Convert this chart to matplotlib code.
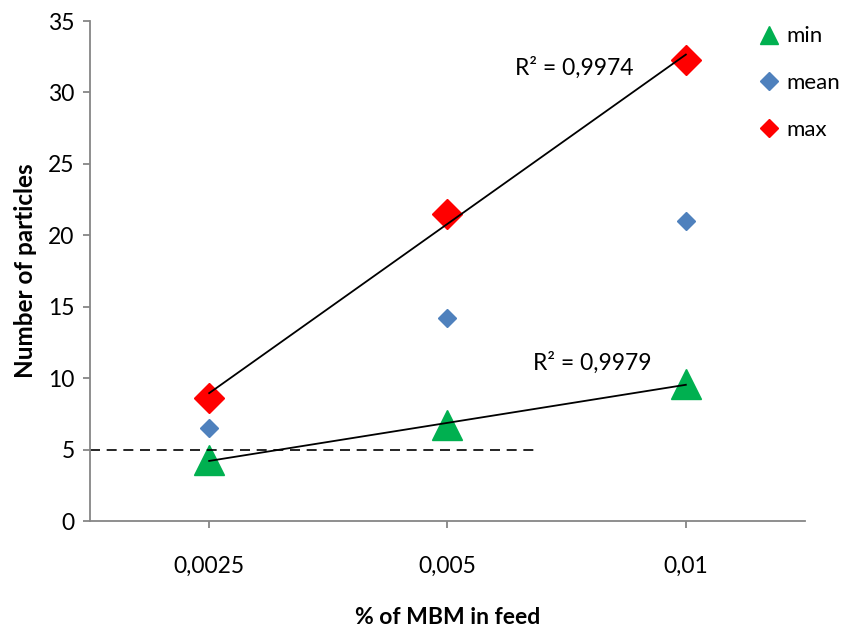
import numpy as np
import matplotlib
matplotlib.use("Agg")
import matplotlib.pyplot as plt

plt.rcParams['font.family'] = ['Lato', 'DejaVu Sans']

categories = ["0,0025", "0,005", "0,01"]
min_vals = [4.27, 6.74, 9.6]
mean_vals = [6.5, 14.2, 21.0]
max_vals = [8.6, 21.5, 32.3]
r2_min = "R² = 0,9979"
r2_max = "R² = 0,9974"
threshold = 5

x = np.arange(1, len(categories) + 1)

fig = plt.figure(figsize=(8.45, 6.28), dpi=100)
ax = fig.add_axes([90/845, 1 - 521/628, (805-90)/845, 500/628])

grey = "#868686"
fs = 16.5
l_min, = ax.plot(x, min_vals, linestyle='none', marker='^', color='#00B050', markersize=21, label='min')
l_mean, = ax.plot(x, mean_vals, linestyle='none', marker='D', color='#4F81BD', markersize=9, label='mean')
l_max, = ax.plot(x, max_vals, linestyle='none', marker='D', color='#FF0000', markersize=15, label='max')

for vals in (min_vals, max_vals):
    p = np.polyfit(x, vals, 1)
    ax.plot(x[[0, -1]], np.polyval(p, x[[0, -1]]), color='black', linewidth=1.3, zorder=5)

ax.plot([0.5, 2.37], [threshold, threshold], color='black', linestyle=(0, (6, 4)), linewidth=1.2)

ax.text(2.78, 31.7, r2_max, fontsize=fs, ha='right', va='center')
ax.text(2.856, 11.1, r2_min, fontsize=fs, ha='right', va='center')

ax.set_xlim(0.5, 3.5)
ax.set_ylim(0, 35)
ax.set_xticks(x)
ax.set_xticklabels(categories)
ax.set_yticks(np.arange(0, 36, 5))
ax.tick_params(axis='both', labelsize=fs, colors=grey, labelcolor='black', length=5, width=1.3)
ax.tick_params(axis='x', pad=20)
ax.tick_params(axis='y', pad=6)
for s in ('top', 'right'):
    ax.spines[s].set_visible(False)
for s in ('left', 'bottom'):
    ax.spines[s].set_color(grey)
    ax.spines[s].set_linewidth(1.3)

ax.set_ylabel("Number of particles", fontsize=17.5, fontweight='bold', labelpad=8)
ax.set_xlabel("% of MBM in feed", fontsize=fs, fontweight='bold', labelpad=22)

leg = fig.legend(handles=[l_min, l_mean, l_max], loc='upper left', bbox_to_anchor=(747/845, 1 - 13/628),
                 frameon=False, fontsize=16, markerscale=0.6, handlelength=0.8, handletextpad=0.35,
                 labelspacing=1.2, borderaxespad=0.2)
leg.legend_handles[1].set_markersize(9)

fig.savefig("out.png", dpi=100)
